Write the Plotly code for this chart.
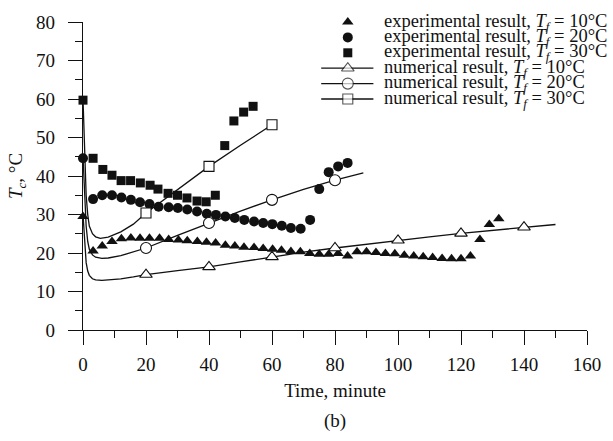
import plotly.graph_objects as go

# ---- experimental core temperature T_c (°C) against time (minute) ----
exp10_t = [0, 3.2, 6.1, 9.2, 12.2, 15.2, 18.1, 21.1, 24.3, 27.2, 30.3, 33.1, 36.3, 39.2,
           42.1, 45.2, 48.2, 51.1, 54.3, 57.2, 60.2, 63, 66, 69, 72, 75, 78, 81, 84, 87,
           90, 93, 96, 99, 102, 105, 108, 111, 114, 117, 120, 123, 126, 129, 132]
exp10_T = [29.5, 20.5, 21.8, 23.0, 23.7, 23.9, 23.8, 23.8, 23.8, 23.5, 23.4, 23.2, 23.0, 22.8,
           22.6, 22.0, 21.8, 21.5, 21.4, 21.2, 21.0, 20.7, 20.4, 20.3, 19.9, 19.7, 19.7, 19.9, 19.2, 20.3,
           20.3, 20.1, 19.9, 19.8, 19.4, 19.2, 19.0, 18.8, 18.6, 18.5, 18.5, 19.2, 23.5, 27.4, 28.9]

exp20_t = [0, 3.2, 6.1, 9.2, 12.2, 15.2, 18.1, 21.1, 24, 27.2, 30.1, 33.1, 36.2, 39.3, 42.2,
           45.2, 48.2, 51.2, 54.3, 57.2, 60.1, 63.1, 66, 69.1, 72.1, 75, 78, 81, 84]
exp20_T = [44.6, 34.0, 35.0, 35.0, 34.4, 33.8, 33.2, 32.7, 32.0, 31.9, 31.7, 31.3, 30.8, 30.2, 29.9,
           29.5, 29.1, 28.6, 28.2, 27.8, 27.5, 27.1, 26.5, 26.3, 28.6, 36.6, 41.0, 42.5, 43.4]

exp30_t = [0, 3.2, 6.3, 9.2, 12.1, 15.1, 18.2, 21.3, 23.8, 27, 30, 33, 36.2, 39.1, 42,
           45, 47.9, 51, 54]
exp30_T = [59.7, 44.6, 41.7, 40.2, 38.8, 38.8, 38.2, 37.6, 36.6, 35.5, 35.0, 34.3, 33.5, 33.3, 35.0,
           47.9, 54.3, 56.6, 58.1]

# ---- numerical core temperature curves ----
num10_t = [0, 0.5, 1, 1.5, 2, 3, 4, 6, 8, 12, 16, 20, 30, 40, 50, 60, 70, 80, 90, 100,
           110, 120, 130, 140, 150]
num10_T = [30, 22, 17.5, 15.3, 14.2, 13.3, 13.0, 12.9, 13.0, 13.3, 13.8, 14.4, 15.4, 16.4, 17.7,
           19.0, 20.2, 21.3, 22.3, 23.3, 24.2, 25.1, 25.9, 26.7, 27.4]

num20_t = [0, 0.5, 1, 1.5, 2, 3, 4, 6, 8, 12, 16, 20, 30, 40, 50, 60, 70, 80, 89]
num20_T = [45, 34, 27, 23, 21, 19.5, 18.9, 18.6, 18.7, 19.3, 20.2, 21.3, 24.6, 27.8, 30.9,
           33.8, 36.5, 38.9, 40.8]

num30_t = [0, 0.5, 1, 1.5, 2, 3, 4, 5.5, 8, 12, 16, 20, 30, 40, 50, 60]
num30_T = [60, 45, 35, 30, 27, 25, 24.2, 23.8, 24.1, 25.5, 27.5, 30.4, 36.4, 42.5, 48.0, 53.3]

marker_every = 20  # open symbols on the numerical curves every 20 minutes

x_ticks = [0, 20, 40, 60, 80, 100, 120, 140, 160]
y_ticks = [0, 10, 20, 30, 40, 50, 60, 70, 80]

labels = [
    "experimental result, <i>T<sub>f</sub></i> = 10°C",
    "experimental result, <i>T<sub>f</sub></i> = 20°C",
    "experimental result, <i>T<sub>f</sub></i> = 30°C",
    "numerical result, <i>T<sub>f</sub></i> = 10°C",
    "numerical result, <i>T<sub>f</sub></i> = 20°C",
    "numerical result, <i>T<sub>f</sub></i> = 30°C",
]

INK = "#111111"
FONT = "Liberation Serif"
TICK_SIZE = 19
KEY_SIZE = 18.5

exp_style = [("triangle-up", 10), ("circle", 10), ("square", 9)]
num_style = [("triangle-up", 11), ("circle", 11), ("square", 10)]

# plot area geometry in pixels
W, H = 613, 441
M_L, M_R, M_T, M_B = 83, 18, 18, 111
PLOT_W = W - M_L - M_R
PLOT_H = H - M_T - M_B


def key_x(px):
    return (px - M_L) / PLOT_W


def key_y(py):
    return (M_T + PLOT_H - py) / PLOT_H


fig = go.Figure()

for (t, T), (sym, size), name in zip([(exp10_t, exp10_T), (exp20_t, exp20_T), (exp30_t, exp30_T)],
                                     exp_style, labels[:3]):
    fig.add_trace(go.Scatter(
        x=t, y=T, mode="markers", name=name, showlegend=False, cliponaxis=False,
        marker=dict(symbol=sym, size=size, color=INK, line=dict(width=0)),
    ))

for (t, T), (sym, size), name in zip([(num10_t, num10_T), (num20_t, num20_T), (num30_t, num30_T)],
                                     num_style, labels[3:]):
    fig.add_trace(go.Scatter(
        x=t, y=T, mode="lines", name=name, showlegend=False, cliponaxis=False,
        line=dict(color=INK, width=1.3),
    ))
    mt = [a for a in t if a > 0 and a % marker_every == 0]
    mT = [b for a, b in zip(t, T) if a > 0 and a % marker_every == 0]
    fig.add_trace(go.Scatter(
        x=mt, y=mT, mode="markers", name=name, showlegend=False, cliponaxis=False,
        marker=dict(symbol=sym, size=size, color="white", line=dict(color=INK, width=1.1)),
    ))

# ---- key at the upper right, on an invisible overlay axis pair ----
kx0, kxm, kx1, tx = key_x(325), key_x(352), key_x(378), key_x(388)
for i, label in enumerate(labels):
    y = key_y(M_T + 15.6 * i)
    if i < 3:
        sym, size = exp_style[i]
        fig.add_trace(go.Scatter(
            x=[kxm], y=[y], xaxis="x2", yaxis="y2", mode="markers", showlegend=False,
            cliponaxis=False, hoverinfo="skip",
            marker=dict(symbol=sym, size=size, color=INK, line=dict(width=0)),
        ))
    else:
        sym, size = num_style[i - 3]
        fig.add_trace(go.Scatter(
            x=[kx0, kxm, kx1], y=[y, y, y], xaxis="x2", yaxis="y2",
            mode="lines+markers", showlegend=False, cliponaxis=False, hoverinfo="skip",
            line=dict(color=INK, width=1.3),
            marker=dict(symbol=sym, size=[0, size, 0], color="white",
                        line=dict(color=INK, width=[0, 1.1, 0])),
        ))
    fig.add_annotation(x=tx, y=y, xref="paper", yref="paper", text=label,
                       showarrow=False, xanchor="left", yanchor="middle", borderpad=0,
                       font=dict(family=FONT, size=KEY_SIZE, color=INK))

fig.add_annotation(x=0.5, y=-0.295, xref="paper", yref="paper", text="(b)",
                   showarrow=False, xanchor="center", yanchor="middle",
                   font=dict(family=FONT, size=TICK_SIZE, color=INK))

axis_common = dict(
    showline=True, linecolor=INK, linewidth=1.3, showgrid=False, zeroline=False,
    ticks="outside", ticklen=14, tickwidth=1.3, tickcolor=INK,
    tickfont=dict(family=FONT, size=TICK_SIZE, color=INK),
    mirror=False,
)

fig.update_layout(
    width=W, height=H,
    margin=dict(l=M_L, r=M_R, t=M_T, b=M_B),
    paper_bgcolor="white", plot_bgcolor="white",
    font=dict(family=FONT, size=TICK_SIZE, color=INK),
    showlegend=False,
    xaxis=dict(
        range=[0, 160], tickvals=x_ticks, ticktext=[str(v) for v in x_ticks],
        ticklabelstandoff=3,
        minor=dict(tickvals=[v + 10 for v in x_ticks[:-1]], ticks="outside", ticklen=7,
                   tickwidth=1.3, tickcolor=INK),
        title=dict(text="Time, minute", standoff=9,
                   font=dict(family=FONT, size=TICK_SIZE, color=INK)),
        **axis_common,
    ),
    yaxis=dict(
        range=[0, 80], tickvals=y_ticks, ticktext=[str(v) for v in y_ticks],
        ticklabelstandoff=9,
        minor=dict(tickvals=[v + 5 for v in y_ticks[:-1]], ticks="outside", ticklen=7,
                   tickwidth=1.3, tickcolor=INK),
        title=dict(text="<i>T<sub>c</sub></i>, °C", standoff=8,
                   font=dict(family=FONT, size=TICK_SIZE, color=INK)),
        **axis_common,
    ),
    xaxis2=dict(overlaying="x", range=[0, 1], visible=False),
    yaxis2=dict(overlaying="y", range=[0, 1], visible=False),
)

fig.write_html("out.html")
